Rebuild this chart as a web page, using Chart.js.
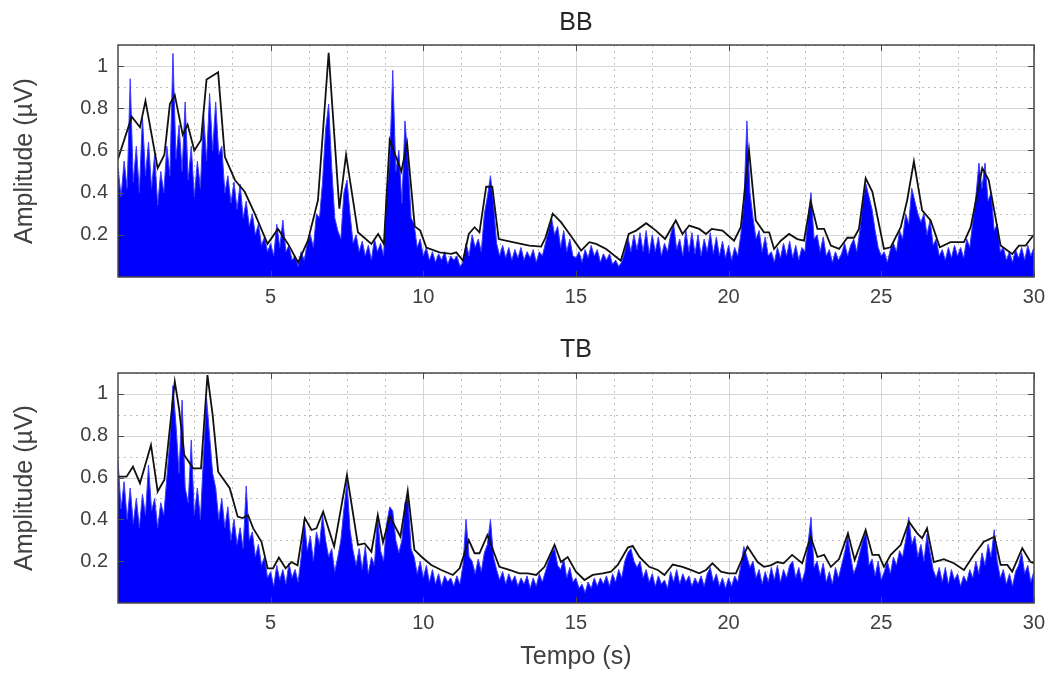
<!DOCTYPE html>
<html>
<head>
<meta charset="utf-8">
<script src="https://cdn.jsdelivr.net/npm/chart.js@4/dist/chart.umd.min.js"></script>
<style>
  body { margin: 0; background: #fff; }
  .panel { position: absolute; left: 0; }
</style>
</head>
<body>
<div class="panel" style="top:0"><canvas id="chartBB" width="1053" height="320"></canvas></div>
<div class="panel" style="top:320px"><canvas id="chartTB" width="1053" height="353"></canvas></div>
<script>
// sampled amplitude (µV), one value every 0.1 s from 0 to 30 s
const SAMPLE_STEP = 0.1;

const bbSignal = [
  0.52, 0.38, 0.55, 0.42, 0.94, 0.45, 0.62, 0.40, 0.76, 0.48,
  0.64, 0.42, 0.58, 0.34, 0.50, 0.40, 0.62, 0.48, 1.06, 0.56,
  0.72, 0.50, 0.83, 0.46, 0.62, 0.38, 0.55, 0.42, 0.78, 0.55,
  0.87, 0.60, 0.83, 0.58, 0.62, 0.40, 0.48, 0.35, 0.45, 0.32,
  0.44, 0.28, 0.36, 0.24, 0.30, 0.20, 0.25, 0.15, 0.19, 0.12,
  0.16, 0.10, 0.25, 0.14, 0.27, 0.12, 0.15, 0.08, 0.10, 0.05,
  0.12, 0.08, 0.16, 0.20, 0.14, 0.30, 0.28, 0.45, 0.70, 0.82,
  0.52, 0.28, 0.22, 0.18, 0.40, 0.46, 0.30, 0.16, 0.20, 0.12,
  0.17, 0.10, 0.15, 0.08, 0.18, 0.12, 0.16, 0.10, 0.40, 0.55,
  0.98, 0.50, 0.60, 0.35, 0.74, 0.55, 0.28, 0.25, 0.14, 0.18,
  0.10, 0.14, 0.08, 0.12, 0.07, 0.11, 0.08, 0.12, 0.06, 0.10,
  0.08, 0.10, 0.05, 0.07, 0.16, 0.10, 0.20, 0.14, 0.18, 0.12,
  0.30, 0.38, 0.48, 0.35, 0.16, 0.10, 0.15, 0.09, 0.14, 0.08,
  0.13, 0.09, 0.14, 0.08, 0.12, 0.09, 0.13, 0.07, 0.12, 0.10,
  0.16, 0.22, 0.28, 0.20, 0.24, 0.14, 0.22, 0.12, 0.18, 0.10,
  0.09, 0.12, 0.07, 0.13, 0.09, 0.15, 0.10, 0.13, 0.07, 0.11,
  0.08, 0.11, 0.06, 0.08, 0.05, 0.07, 0.12, 0.19, 0.12, 0.20,
  0.13, 0.21, 0.12, 0.22, 0.11, 0.20, 0.12, 0.19, 0.10, 0.16,
  0.12, 0.20, 0.25, 0.13, 0.18, 0.10, 0.22, 0.12, 0.21, 0.11,
  0.20, 0.10, 0.18, 0.12, 0.21, 0.11, 0.19, 0.10, 0.17, 0.09,
  0.15, 0.08, 0.14, 0.10, 0.20, 0.35, 0.74, 0.40, 0.28, 0.18,
  0.22, 0.12, 0.19, 0.10, 0.12, 0.07, 0.14, 0.09, 0.16, 0.10,
  0.17, 0.09, 0.15, 0.08, 0.14, 0.12, 0.28, 0.40, 0.18, 0.20,
  0.12, 0.19, 0.10, 0.13, 0.07, 0.12, 0.08, 0.11, 0.16, 0.10,
  0.15, 0.18, 0.12, 0.22, 0.36, 0.44, 0.38, 0.32, 0.22, 0.14,
  0.10, 0.12, 0.07, 0.13, 0.16, 0.12, 0.22, 0.18, 0.30, 0.25,
  0.42, 0.36, 0.30, 0.26, 0.30, 0.20, 0.27, 0.15, 0.18, 0.10,
  0.13, 0.08, 0.14, 0.09, 0.15, 0.10, 0.14, 0.09, 0.18, 0.14,
  0.26, 0.38, 0.54, 0.42, 0.54, 0.36, 0.40, 0.22, 0.25, 0.12,
  0.14, 0.08, 0.12, 0.07, 0.13, 0.09, 0.14, 0.08, 0.15, 0.10,
  0.14
];

const tbSignal = [
  0.68, 0.45, 0.58, 0.40, 0.55, 0.38, 0.50, 0.36, 0.52, 0.42,
  0.66, 0.44, 0.50, 0.36, 0.48, 0.42, 0.60, 0.78, 1.04, 0.85,
  0.62, 0.97, 0.55, 0.48, 0.78, 0.42, 0.55, 0.40, 0.70, 0.98,
  0.80, 0.62, 0.55, 0.40, 0.50, 0.36, 0.46, 0.30, 0.40, 0.28,
  0.36, 0.26, 0.56, 0.30, 0.34, 0.22, 0.28, 0.18, 0.22, 0.12,
  0.15, 0.08, 0.18, 0.11, 0.16, 0.09, 0.19, 0.12, 0.16, 0.10,
  0.22, 0.40, 0.25, 0.32, 0.20, 0.34, 0.28, 0.42, 0.30, 0.22,
  0.26, 0.15, 0.22, 0.30, 0.45, 0.58, 0.35, 0.25, 0.18, 0.26,
  0.16, 0.27, 0.14, 0.22, 0.18, 0.42, 0.25, 0.20, 0.38, 0.46,
  0.44, 0.30, 0.24, 0.30, 0.48, 0.50, 0.26, 0.22, 0.14, 0.20,
  0.12, 0.18, 0.10, 0.16, 0.09, 0.14, 0.08, 0.13, 0.10, 0.12,
  0.08, 0.13, 0.09, 0.18, 0.40, 0.22, 0.20, 0.14, 0.21, 0.15,
  0.24, 0.28, 0.40, 0.22, 0.16, 0.11, 0.15, 0.09, 0.14, 0.10,
  0.13, 0.08, 0.12, 0.09, 0.13, 0.07, 0.12, 0.08, 0.14, 0.10,
  0.15, 0.20, 0.24, 0.26, 0.18, 0.16, 0.21, 0.12, 0.17, 0.10,
  0.12, 0.07, 0.09, 0.05, 0.10, 0.07, 0.12, 0.08, 0.12, 0.09,
  0.13, 0.08, 0.14, 0.10, 0.16, 0.12, 0.20, 0.24, 0.26, 0.20,
  0.17, 0.20, 0.12, 0.16, 0.10, 0.14, 0.08, 0.13, 0.09, 0.11,
  0.07, 0.15, 0.10, 0.16, 0.09, 0.14, 0.10, 0.13, 0.08, 0.12,
  0.09, 0.13, 0.08, 0.14, 0.17, 0.10, 0.14, 0.08, 0.12, 0.07,
  0.12, 0.08, 0.13, 0.10, 0.18, 0.27, 0.22, 0.17, 0.20, 0.12,
  0.16, 0.09, 0.15, 0.10, 0.17, 0.11, 0.18, 0.10, 0.16, 0.12,
  0.18, 0.20, 0.12, 0.17, 0.10, 0.15, 0.28, 0.41, 0.17, 0.20,
  0.13, 0.19, 0.10, 0.15, 0.09, 0.17, 0.12, 0.18, 0.24, 0.32,
  0.22, 0.14, 0.18, 0.24, 0.30, 0.34, 0.18, 0.21, 0.13, 0.20,
  0.11, 0.15, 0.20, 0.14, 0.22, 0.18, 0.25, 0.22, 0.30, 0.41,
  0.28, 0.32, 0.22, 0.28, 0.20, 0.33, 0.24, 0.16, 0.12, 0.17,
  0.10, 0.17, 0.09, 0.16, 0.11, 0.14, 0.08, 0.13, 0.10, 0.16,
  0.12, 0.20, 0.14, 0.24, 0.18, 0.28, 0.22, 0.35, 0.20, 0.12,
  0.16, 0.09, 0.14, 0.08, 0.15, 0.18, 0.24, 0.14, 0.18, 0.10,
  0.15
];

// envelope (black line) vertices: time (s) and amplitude (µV)
const bbEnvTime = [
  0, 0.45, 0.72, 0.9, 1.3, 1.52, 1.7, 1.86, 2.12, 2.28, 2.5, 2.72, 2.9, 3.28, 3.5, 3.83,
  4.15, 4.48, 4.9, 5.24, 5.57, 5.9, 6.22, 6.55, 6.9, 7.25, 7.47, 7.86, 8.3, 8.52, 8.71,
  8.9, 9.28, 9.47, 9.72, 9.9, 10.1, 10.53, 10.92, 11.08, 11.3, 11.49, 11.68, 11.84,
  12.06, 12.26, 12.47, 12.93, 13.47, 13.86, 14.0, 14.24, 14.51, 14.79, 15.17, 15.44,
  15.66, 15.99, 16.47, 16.73, 16.97, 17.3, 17.62, 17.92, 18.27, 18.49, 18.71, 19.04,
  19.26, 19.45, 19.8, 20.18, 20.4, 20.67, 20.89, 21.16, 21.33, 21.49, 21.71, 21.98,
  22.25, 22.47, 22.69, 22.91, 23.13, 23.35, 23.62, 23.89, 24.11, 24.27, 24.49, 24.71,
  25.09, 25.31, 25.64, 25.85, 26.07, 26.34, 26.62, 26.92, 27.27, 27.71, 27.93, 28.31,
  28.52, 28.91, 29.29, 29.51, 29.73, 29.89, 30
];
const bbEnvValue = [
  0.56, 0.76, 0.71, 0.835, 0.516, 0.58, 0.82, 0.862, 0.675, 0.723, 0.60, 0.65, 0.936, 0.971, 0.57, 0.46,
  0.404, 0.30, 0.157, 0.228, 0.157, 0.069, 0.172, 0.364, 1.063, 0.324, 0.58, 0.212, 0.157, 0.204, 0.157,
  0.65, 0.50, 0.635, 0.24, 0.22, 0.14, 0.117, 0.11, 0.117, 0.077, 0.204, 0.236, 0.212,
  0.428, 0.428, 0.18, 0.165, 0.149, 0.144, 0.186, 0.30, 0.26, 0.204, 0.125, 0.165,
  0.157, 0.133, 0.077, 0.204, 0.22, 0.255, 0.22, 0.18, 0.268, 0.204, 0.244, 0.228,
  0.204, 0.228, 0.22, 0.172, 0.236, 0.60, 0.268, 0.212, 0.212, 0.133, 0.172, 0.204,
  0.18, 0.172, 0.356, 0.228, 0.228, 0.149, 0.133, 0.186, 0.186, 0.228, 0.468, 0.404,
  0.133, 0.141, 0.236, 0.364, 0.548, 0.316, 0.268, 0.141, 0.165, 0.165, 0.236, 0.516,
  0.46, 0.149, 0.109, 0.149, 0.149, 0.18, 0.20
];

const tbEnvTime = [
  0, 0.28, 0.49, 0.72, 1.08, 1.3, 1.52, 1.86, 2.0, 2.17, 2.46, 2.72, 2.93, 3.1, 3.28, 3.66,
  3.92, 4.08, 4.26, 4.43, 4.7, 4.9, 5.08, 5.27, 5.49, 5.68, 5.88, 6.12, 6.34, 6.5, 6.72,
  7.08, 7.5, 7.86, 8.08, 8.3, 8.51, 8.68, 8.9, 9.25, 9.49, 9.71, 9.95, 10.26, 10.59,
  10.97, 11.19, 11.49, 11.68, 11.84, 12.1, 12.49, 12.82, 13.15, 13.42, 13.7, 13.97,
  14.3, 14.51, 14.73, 15.0, 15.28, 15.55, 15.88, 16.15, 16.37, 16.7, 16.86, 17.08,
  17.4, 17.68, 17.9, 18.17, 18.49, 18.76, 19.04, 19.26, 19.47, 19.75, 20.0, 20.24,
  20.62, 20.95, 21.16, 21.38, 21.6, 21.8, 22.08, 22.41, 22.69, 22.91, 23.13, 23.35,
  23.62, 23.91, 24.13, 24.49, 24.71, 24.92, 25.09, 25.31, 25.64, 25.91, 26.18, 26.34,
  26.5, 26.72, 27.05, 27.38, 27.71, 28.03, 28.36, 28.71, 28.91, 29.13, 29.29, 29.62,
  29.89, 30
];
const tbEnvValue = [
  0.604, 0.604, 0.652, 0.573, 0.756, 0.533, 0.59, 1.059, 0.93, 0.708, 0.644, 0.644, 1.09, 0.90, 0.628, 0.549,
  0.413, 0.406, 0.42, 0.357, 0.293, 0.166, 0.166, 0.217, 0.166, 0.196, 0.18, 0.406, 0.349, 0.357, 0.437,
  0.27, 0.612, 0.278, 0.285, 0.245, 0.421, 0.29, 0.416, 0.317, 0.536, 0.254, 0.22, 0.182, 0.158,
  0.134, 0.166, 0.301, 0.238, 0.238, 0.325, 0.173, 0.158, 0.142, 0.142, 0.134, 0.173,
  0.278, 0.196, 0.22, 0.15, 0.11, 0.134, 0.142, 0.15, 0.182, 0.265, 0.273, 0.22,
  0.173, 0.158, 0.134, 0.184, 0.173, 0.158, 0.142, 0.158, 0.19, 0.15, 0.142, 0.142,
  0.27, 0.196, 0.173, 0.18, 0.196, 0.19, 0.23, 0.19, 0.317, 0.22, 0.23, 0.173,
  0.21, 0.333, 0.206, 0.349, 0.23, 0.23, 0.173, 0.23, 0.278, 0.389, 0.333, 0.31,
  0.357, 0.196, 0.21, 0.19, 0.158, 0.23, 0.293, 0.317, 0.182, 0.182, 0.15, 0.262,
  0.196, 0.19
];

const xTicks = [5, 10, 15, 20, 25, 30];
const yTicks = [0.2, 0.4, 0.6, 0.8, 1];

Chart.defaults.font.family = "'Liberation Sans', Arial, Helvetica, sans-serif";
Chart.defaults.color = '#404040';

// MATLAB-like axes: solid major grid, dotted minor grid, box and inward ticks
const matlabAxes = {
  id: 'matlabAxes',
  beforeDatasetsDraw(chart) {
    const { ctx, chartArea: a, scales: { x, y } } = chart;
    ctx.save();
    ctx.lineWidth = 1;
    ctx.strokeStyle = '#bdbdbd';
    ctx.setLineDash([2, 4]);
    for (let k = 1; k < 24; k++) {
      if (k % 4 === 0) continue;
      const px = Math.round(x.getPixelForValue(k * 1.25)) + 0.5;
      ctx.beginPath(); ctx.moveTo(px, a.top); ctx.lineTo(px, a.bottom); ctx.stroke();
    }
    for (let k = 1; k <= 11; k += 2) {
      const py = Math.round(y.getPixelForValue(k / 10)) + 0.5;
      ctx.beginPath(); ctx.moveTo(a.left, py); ctx.lineTo(a.right, py); ctx.stroke();
    }
    ctx.setLineDash([]);
    ctx.strokeStyle = '#d6d6d6';
    xTicks.forEach(v => {
      const px = Math.round(x.getPixelForValue(v)) + 0.5;
      ctx.beginPath(); ctx.moveTo(px, a.top); ctx.lineTo(px, a.bottom); ctx.stroke();
    });
    yTicks.forEach(v => {
      const py = Math.round(y.getPixelForValue(v)) + 0.5;
      ctx.beginPath(); ctx.moveTo(a.left, py); ctx.lineTo(a.right, py); ctx.stroke();
    });
    ctx.restore();
  },
  afterDatasetsDraw(chart) {
    const { ctx, chartArea: a, scales: { x, y } } = chart;
    ctx.save();
    ctx.strokeStyle = '#4a4a4a';
    ctx.lineWidth = 1;
    xTicks.forEach(v => {
      const px = Math.round(x.getPixelForValue(v)) + 0.5;
      ctx.beginPath(); ctx.moveTo(px, a.top); ctx.lineTo(px, a.top + 6); ctx.stroke();
      ctx.beginPath(); ctx.moveTo(px, a.bottom); ctx.lineTo(px, a.bottom - 6); ctx.stroke();
    });
    yTicks.forEach(v => {
      const py = Math.round(y.getPixelForValue(v)) + 0.5;
      ctx.beginPath(); ctx.moveTo(a.left, py); ctx.lineTo(a.left + 6, py); ctx.stroke();
      ctx.beginPath(); ctx.moveTo(a.right, py); ctx.lineTo(a.right - 6, py); ctx.stroke();
    });
    ctx.lineWidth = 1.5;
    ctx.strokeRect(Math.round(a.left), Math.round(a.top), Math.round(a.right - a.left), Math.round(a.bottom - a.top));
    ctx.restore();
  }
};

function makePanel(canvasId, title, signal, envTime, envValue, opts) {
  const signalPoints = signal.map((v, i) => ({ x: +(i * SAMPLE_STEP).toFixed(1), y: v }));
  const envPoints = envTime.map((t, i) => ({ x: t, y: envValue[i] }));
  return new Chart(document.getElementById(canvasId), {
    type: 'line',
    data: {
      datasets: [
        {
          data: envPoints,
          borderColor: '#111111',
          borderWidth: 1.8,
          pointRadius: 0,
          tension: 0,
          order: 0
        },
        {
          data: signalPoints,
          borderColor: '#3a3aff',
          backgroundColor: '#0000ff',
          borderWidth: 1,
          fill: 'origin',
          pointRadius: 0,
          tension: 0,
          order: 1
        }
      ]
    },
    options: {
      responsive: false,
      animation: false,
      devicePixelRatio: 1,
      layout: { padding: { left: 0, right: 18, top: 0, bottom: 0 } },
      plugins: {
        legend: { display: false },
        tooltip: { enabled: false },
        title: {
          display: true,
          fullSize: false,
          text: title,
          color: '#262626',
          font: { size: 25, weight: 'normal' },
          padding: opts.titlePadding
        }
      },
      scales: {
        x: {
          type: 'linear',
          min: 0,
          max: 30,
          grid: { display: false, drawTicks: false },
          border: { display: false },
          ticks: {
            stepSize: 5,
            padding: 8,
            maxRotation: 0,
            font: { size: 20 },
            color: '#404040',
            callback: v => (v === 0 ? '' : v)
          },
          title: opts.xTitle,
          afterFit: s => { s.height = opts.xHeight; }
        },
        y: {
          min: 0,
          max: 1.1,
          grid: { display: false, drawTicks: false },
          border: { display: false },
          ticks: {
            stepSize: 0.2,
            includeBounds: false,
            padding: 10,
            font: { size: 20 },
            color: '#404040',
            callback: v => (v < 0.1 || v > 1.05 ? '' : String(Number(v.toFixed(1))))
          },
          title: {
            display: true,
            text: 'Amplitude (µV)',
            color: '#404040',
            font: { size: 25 },
            padding: { top: 10, bottom: 0 }
          },
          afterFit: s => { s.width = 118; }
        }
      }
    },
    plugins: [matlabAxes]
  });
}

makePanel('chartBB', 'BB', bbSignal, bbEnvTime, bbEnvValue, {
  titlePadding: { top: 8, bottom: 7 },
  xHeight: 43,
  xTitle: { display: false }
});

makePanel('chartTB', 'TB', tbSignal, tbEnvTime, tbEnvValue, {
  titlePadding: { top: 15, bottom: 8 },
  xHeight: 70,
  xTitle: {
    display: true,
    text: 'Tempo (s)',
    color: '#404040',
    font: { size: 25 },
    padding: { top: 1, bottom: 1 }
  }
});
</script>
</body>
</html>
